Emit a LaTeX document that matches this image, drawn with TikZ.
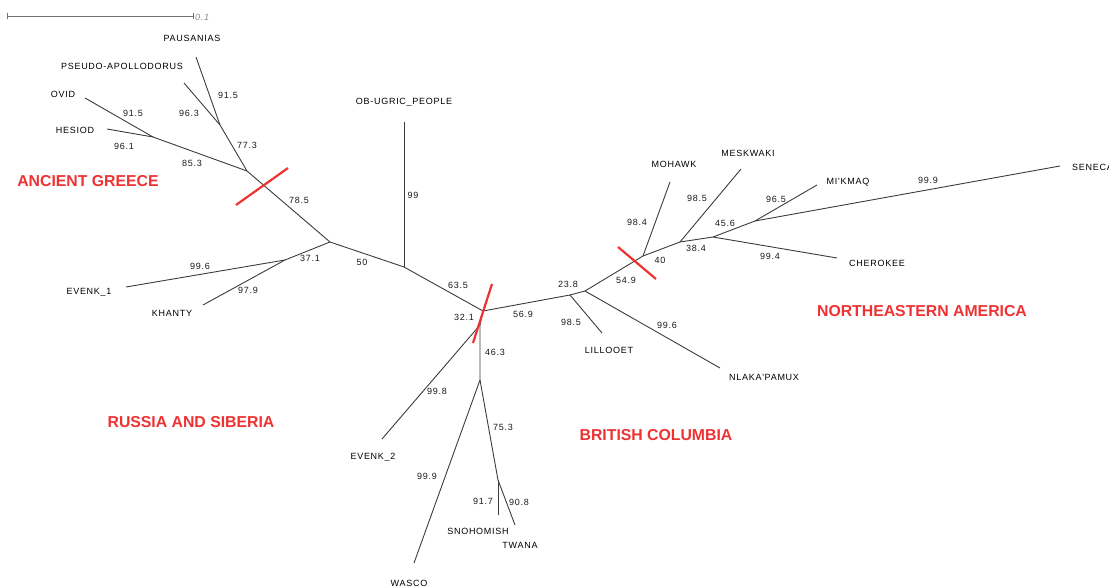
\documentclass[tikz,border=0pt]{standalone}
\usepackage{fontspec}
\setmainfont{Liberation Sans}
\newfontfamily\taxonfont[LetterSpace=8]{Liberation Sans}
\definecolor{cladered}{RGB}{238,50,50}
\definecolor{branchgray}{RGB}{60,60,60}
\tikzset{
    branch/.style={draw=branchgray, line width=0.9pt},
    taxon/.style={font=\taxonfont\fontsize{9}{10}\selectfont, text=black, inner sep=0pt},
    support/.style={font=\taxonfont\fontsize{9}{10}\selectfont, text=black!90, inner sep=0pt},
    clade/.style={font=\bfseries\fontsize{15.8}{18}\selectfont, text=cladered, inner sep=0pt},
    cutmark/.style={draw=cladered, line width=2.2pt},
    scalebar/.style={draw=black!55, line width=0.6pt}
}
\begin{document}
\begin{tikzpicture}[x=1pt, y=-1pt]
    \useasboundingbox (0,0) rectangle (1109,588);

    \coordinate (scaleL) at (7,16);
    \coordinate (scaleR) at (193,16);
    \draw[scalebar] (scaleL) -- (scaleR);
    \draw[scalebar] ([yshift=-3pt]scaleL) -- ([yshift=3pt]scaleL);
    \draw[scalebar] ([yshift=-3pt]scaleR) -- ([yshift=3pt]scaleR);
    \node[support, text=black!45, font=\taxonfont\itshape\fontsize{9}{10}\selectfont, anchor=west] (scalelbl) at (195,17) {0.1};

    \coordinate (gr) at (247,171);
    \coordinate (oh) at (153,137);
    \coordinate (pp) at (220,125);
    \coordinate (a) at (330,242);
    \coordinate (ek) at (285,260);
    \coordinate (b) at (404,267);
    \coordinate (c) at (483,311);
    \coordinate (c2) at (480,325);
    \coordinate (l) at (570,295);
    \coordinate (d) at (585,291);
    \coordinate (m) at (643,256);
    \coordinate (mk) at (680,242);
    \coordinate (ch) at (713,237);
    \coordinate (mi) at (755,221);
    \coordinate (e) at (480,380);
    \coordinate (f) at (498,480);

    \coordinate (pausaniastip) at (196,57);
    \coordinate (pseudotip) at (184,83);
    \coordinate (ovidtip) at (85,98);
    \coordinate (hesiodtip) at (107,129);
    \coordinate (evenkonetip) at (126,287);
    \coordinate (khantytip) at (203,305);
    \coordinate (obugrictip) at (404,122);
    \coordinate (lillooettip) at (602,333);
    \coordinate (nlakatip) at (720,368);
    \coordinate (mohawktip) at (670,182);
    \coordinate (meskwakitip) at (741,169);
    \coordinate (cherokeetip) at (837,258);
    \coordinate (mikmaqtip) at (817,185);
    \coordinate (senecatip) at (1060,166);
    \coordinate (evenktwotip) at (382,439);
    \coordinate (wascotip) at (414,563);
    \coordinate (snohomishtip) at (498,515);
    \coordinate (twanatip) at (515,525);

    \draw[branch] (pausaniastip) -- (pp) -- (gr) -- (a);
    \draw[branch] (pseudotip) -- (pp);
    \draw[branch] (ovidtip) -- (oh) -- (gr);
    \draw[branch] (hesiodtip) -- (oh);
    \draw[branch] (evenkonetip) -- (ek) -- (a);
    \draw[branch] (khantytip) -- (ek);
    \draw[branch] (a) -- (b) -- (c);
    \draw[branch] (obugrictip) -- (b);
    \draw[branch] (c) -- (l) -- (d) -- (m) -- (mk) -- (ch) -- (mi) -- (senecatip);
    \draw[branch] (lillooettip) -- (l);
    \draw[branch] (nlakatip) -- (d);
    \draw[branch] (mohawktip) -- (m);
    \draw[branch] (meskwakitip) -- (mk);
    \draw[branch] (cherokeetip) -- (ch);
    \draw[branch] (mikmaqtip) -- (mi);
    \draw[branch] (c) -- (c2) -- (e) -- (f) -- (twanatip);
    \draw[branch] (evenktwotip) -- (c2);
    \draw[branch] (wascotip) -- (e);
    \draw[branch] (snohomishtip) -- (f);

    \node[taxon] (pausanias) at (192,38) {PAUSANIAS};
    \node[taxon] (pseudo) at (122,66) {PSEUDO-APOLLODORUS};
    \node[taxon] (ovid) at (63,94) {OVID};
    \node[taxon] (hesiod) at (75,130) {HESIOD};
    \node[taxon] (evenkone) at (89,292) {EVENK\_1};
    \node[taxon] (khanty) at (172,313) {KHANTY};
    \node[taxon] (obugric) at (404,102) {OB-UGRIC\_PEOPLE};
    \node[taxon] (lillooet) at (609,350) {LILLOOET};
    \node[taxon, anchor=west] (nlaka) at (729,377) {NLAKA'PAMUX};
    \node[taxon] (mohawk) at (674,164) {MOHAWK};
    \node[taxon] (meskwaki) at (748,153) {MESKWAKI};
    \node[taxon] (mikmaq) at (848,182) {MI'KMAQ};
    \node[taxon] (cherokee) at (877,263) {CHEROKEE};
    \node[taxon, anchor=west] (seneca) at (1072,167) {SENECA};
    \node[taxon] (evenktwo) at (373,457) {EVENK\_2};
    \node[taxon] (wasco) at (409,583) {WASCO};
    \node[taxon] (snohomish) at (478,531) {SNOHOMISH};
    \node[taxon] (twana) at (520,545) {TWANA};

    \node[support] at (228,95) {91.5};
    \node[support] at (189,113) {96.3};
    \node[support] at (133,113) {91.5};
    \node[support] at (124,146) {96.1};
    \node[support] at (247,145) {77.3};
    \node[support] at (192,163) {85.3};
    \node[support] at (299,200) {78.5};
    \node[support] at (413,195) {99};
    \node[support] at (362,262) {50};
    \node[support] at (310,258) {37.1};
    \node[support] at (200,266) {99.6};
    \node[support] at (248,290) {97.9};
    \node[support] at (458,285) {63.5};
    \node[support] at (464,317) {32.1};
    \node[support] at (523,314) {56.9};
    \node[support] at (568,284) {23.8};
    \node[support] at (571,322) {98.5};
    \node[support] at (667,325) {99.6};
    \node[support] at (626,280) {54.9};
    \node[support] at (660,260) {40};
    \node[support] at (637,222) {98.4};
    \node[support] at (696,248) {38.4};
    \node[support] at (697,198) {98.5};
    \node[support] at (725,223) {45.6};
    \node[support] at (776,199) {96.5};
    \node[support] at (770,256) {99.4};
    \node[support] at (928,180) {99.9};
    \node[support] at (495,352) {46.3};
    \node[support] at (437,391) {99.8};
    \node[support] at (427,476) {99.9};
    \node[support] at (503,427) {75.3};
    \node[support] at (483,501) {91.7};
    \node[support] at (519,502) {90.8};

    \coordinate (greeceA) at (236,205);
    \coordinate (greeceB) at (288,168);
    \coordinate (bcA) at (492,284);
    \coordinate (bcB) at (473,343);
    \coordinate (neA) at (618,247);
    \coordinate (neB) at (656,279);
    \draw[cutmark] (greeceA) -- (greeceB);
    \draw[cutmark] (bcA) -- (bcB);
    \draw[cutmark] (neA) -- (neB);

    \node[clade] (greece) at (88,181) {ANCIENT GREECE};
    \node[clade] (russia) at (191,422) {RUSSIA AND SIBERIA};
    \node[clade] (bc) at (656,435) {BRITISH COLUMBIA};
    \node[clade] (ne) at (922,311) {NORTHEASTERN AMERICA};
\end{tikzpicture}
\end{document}
